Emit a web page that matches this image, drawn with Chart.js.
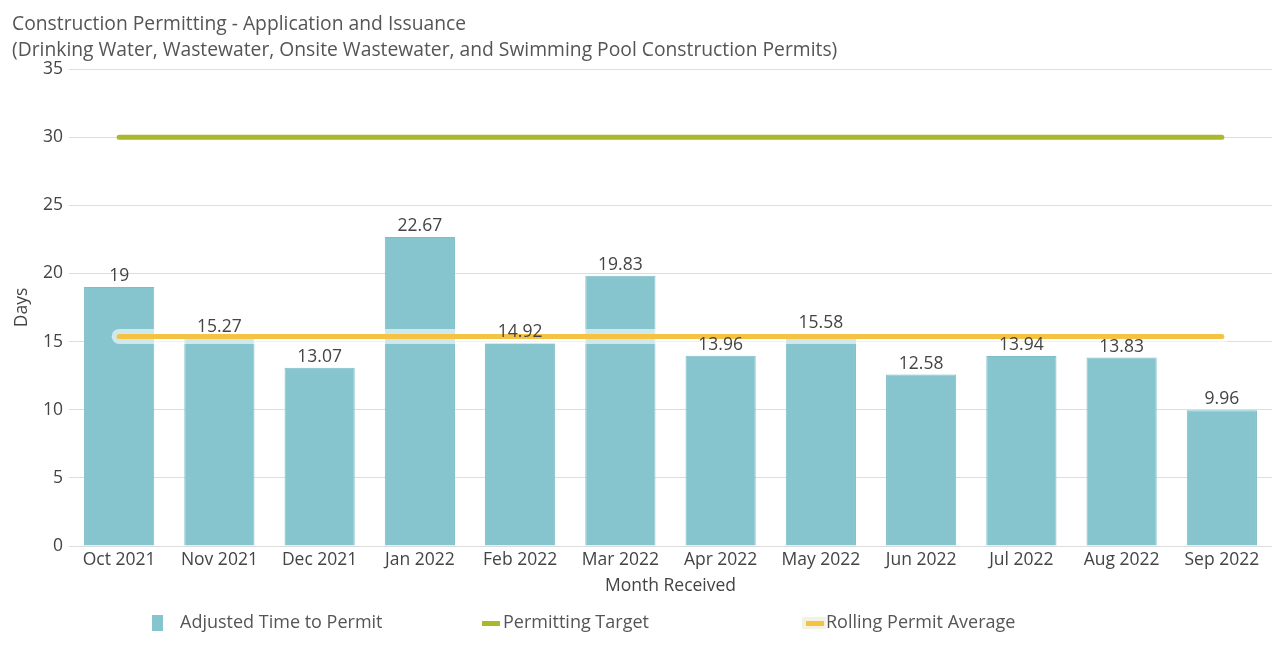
<!DOCTYPE html>
<html>
<head>
<meta charset="utf-8">
<script src="https://cdn.jsdelivr.net/npm/chart.js@4/dist/chart.umd.min.js"></script>
<style>
  html, body { margin: 0; padding: 0; background: #fff; }
  #wrap { width: 1285px; height: 665px; position: relative; }
</style>
</head>
<body>
<div id="wrap"><canvas id="c"></canvas></div>
<script>
const categories = ["Oct 2021","Nov 2021","Dec 2021","Jan 2022","Feb 2022","Mar 2022","Apr 2022","May 2022","Jun 2022","Jul 2022","Aug 2022","Sep 2022"];
const adjustedTimeToPermit = [19, 15.27, 13.07, 22.67, 14.92, 19.83, 13.96, 15.58, 12.58, 13.94, 13.83, 9.96];
const permittingTarget = [30, 30, 30, 30, 30, 30, 30, 30, 30, 30, 30, 30];
const rollingPermitAverage = [15.38, 15.38, 15.38, 15.38, 15.38, 15.38, 15.38, 15.38, 15.38, 15.38, 15.38, 15.38];
const yTicks = [0, 5, 10, 15, 20, 25, 30, 35];
const titleLines = ["Construction Permitting - Application and Issuance", "(Drinking Water, Wastewater, Onsite Wastewater, and Swimming Pool Construction Permits)"];
const legendLabels = ["Adjusted Time to Permit", "Permitting Target", "Rolling Permit Average"];

const FONT = "'Open Sans', 'Noto Sans', sans-serif";
const BAR = "#86C5CE";
const GREEN = "#A9B92B";
const YELLOW = "#F4C344";
const TEXT = "#444";

const titlePlugin = {
  id: 'fixedTitle',
  afterDraw(chart) {
    const ctx = chart.ctx;
    ctx.save();
    ctx.font = "19.3px " + FONT;
    ctx.fillStyle = "#555";
    ctx.textAlign = "left";
    ctx.textBaseline = "middle";
    ctx.fillText(titleLines[0], 12, 25);
    ctx.fillText(titleLines[1], 12, 51);
    ctx.restore();
  }
};

const valueLabels = {
  id: 'valueLabels',
  afterDatasetsDraw(chart) {
    const ctx = chart.ctx;
    const meta = chart.getDatasetMeta(0);
    ctx.save();
    ctx.font = "17.5px " + FONT;
    ctx.fillStyle = TEXT;
    ctx.textAlign = "center";
    ctx.textBaseline = "bottom";
    meta.data.forEach((el, i) => {
      ctx.fillText(String(adjustedTimeToPermit[i]), el.x, el.y - 2);
    });
    ctx.restore();
  }
};

const legendPlugin = {
  id: 'fixedLegend',
  afterDraw(chart) {
    const ctx = chart.ctx;
    const y = 623;
    ctx.save();
    ctx.font = "18px " + FONT;
    ctx.textBaseline = "middle";
    ctx.textAlign = "left";
    ctx.fillStyle = BAR;
    ctx.fillRect(152, 615, 11, 16);
    ctx.fillStyle = "#555";
    ctx.fillText(legendLabels[0], 180, y);
    ctx.fillStyle = GREEN;
    ctx.fillRect(482, 621, 18, 5);
    ctx.fillStyle = "#555";
    ctx.fillText(legendLabels[1], 503, y);
    ctx.fillStyle = "rgba(240,240,220,0.8)";
    ctx.fillRect(802, 617, 24, 12);
    ctx.fillStyle = YELLOW;
    ctx.fillRect(806, 621, 18, 5);
    ctx.fillStyle = "#555";
    ctx.fillText(legendLabels[2], 826, y);
    ctx.restore();
  }
};

new Chart(document.getElementById('c'), {
  type: 'bar',
  data: {
    labels: categories,
    datasets: [
      {
        type: 'bar',
        label: legendLabels[0],
        data: adjustedTimeToPermit,
        backgroundColor: BAR,
        borderColor: "#7DBDC7",
        borderWidth: 1,
        barPercentage: 0.7,
        categoryPercentage: 1.0,
        order: 4
      },
      {
        type: 'line',
        label: legendLabels[1],
        data: permittingTarget,
        borderColor: GREEN,
        borderWidth: 5,
        pointRadius: 0,
        borderCapStyle: 'round',
        fill: false,
        order: 1
      },
      {
        type: 'line',
        label: 'halo',
        data: rollingPermitAverage,
        borderColor: "rgba(255,255,255,0.6)",
        borderWidth: 15,
        pointRadius: 0,
        borderCapStyle: 'round',
        fill: false,
        order: 3
      },
      {
        type: 'line',
        label: legendLabels[2],
        data: rollingPermitAverage,
        borderColor: YELLOW,
        borderWidth: 5,
        pointRadius: 0,
        borderCapStyle: 'round',
        fill: false,
        order: 2
      }
    ]
  },
  options: {
    responsive: true,
    maintainAspectRatio: false,
    animation: false,
    layout: { padding: { top: 69, right: 13, bottom: 68, left: 12 } },
    plugins: {
      legend: { display: false },
      title: { display: false },
      tooltip: { enabled: false }
    },
    scales: {
      x: {
        grid: { display: false, drawTicks: false },
        border: { display: false },
        ticks: { color: TEXT, font: { family: FONT, size: 17.5 }, padding: 4, maxRotation: 0 },
        title: { display: true, text: "Month Received", color: TEXT, font: { family: FONT, size: 17.5 }, padding: { top: 1, bottom: 0 } }
      },
      y: {
        min: 0, max: 35,
        afterBuildTicks(scale) { scale.ticks = yTicks.map(v => ({ value: v })); },
        grid: { color: "#DDDDDD", drawTicks: false, lineWidth: 1 },
        border: { display: false },
        ticks: { color: TEXT, font: { family: FONT, size: 17.5 }, padding: 6 },
        title: { display: true, text: "Days", color: TEXT, font: { family: FONT, size: 17.5 }, padding: { top: 0, bottom: 4 } }
      }
    }
  },
  plugins: [titlePlugin, valueLabels, legendPlugin]
});
</script>
</body>
</html>
